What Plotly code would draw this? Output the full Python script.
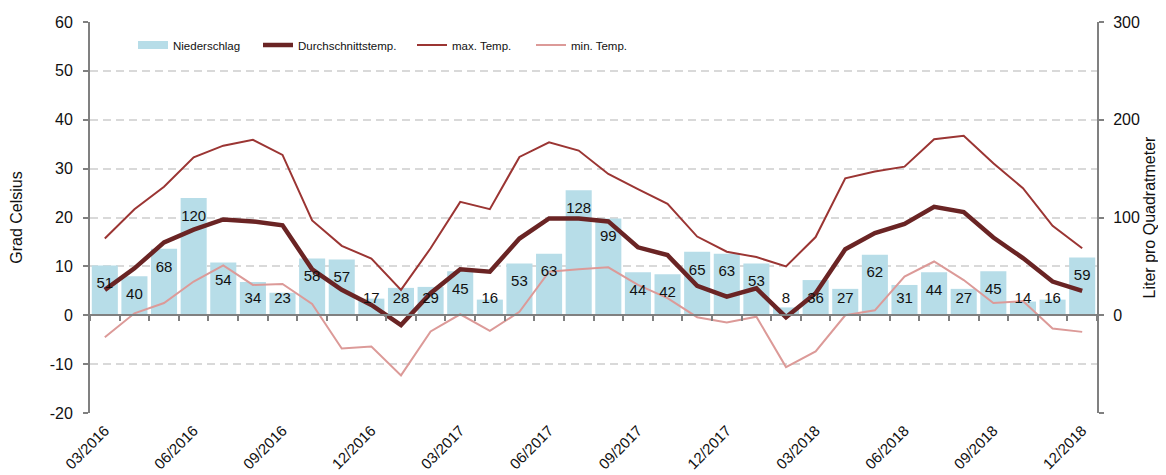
import numpy as np
import plotly.graph_objects as go

months = ["03/2016", "04/2016", "05/2016", "06/2016", "07/2016", "08/2016", "09/2016", "10/2016",
          "11/2016", "12/2016", "01/2017", "02/2017", "03/2017", "04/2017", "05/2017", "06/2017",
          "07/2017", "08/2017", "09/2017", "10/2017", "11/2017", "12/2017", "01/2018", "02/2018",
          "03/2018", "04/2018", "05/2018", "06/2018", "07/2018", "08/2018", "09/2018", "10/2018",
          "11/2018", "12/2018"]

niederschlag = [51, 40, 68, 120, 54, 34, 23, 58, 57, 17, 28, 29, 45, 16, 53, 63, 128, 99, 44, 42,
                65, 63, 53, 8, 36, 27, 62, 31, 44, 27, 45, 14, 16, 59]

avg_temp = [5.2, 9.6, 14.9, 17.5, 19.6, 19.2, 18.4, 9.4, 5.2, 2.1,
            -2.0, 4.5, 9.4, 8.9, 15.7, 19.8, 19.8, 19.2, 13.9, 12.3, 6.0, 3.8,
            5.5, -0.4, 4.5, 13.5, 16.8, 18.7, 22.2, 21.1, 15.9, 11.7, 6.9, 5.0]

max_temp = [15.7, 21.7, 26.3, 32.3, 34.7, 35.9, 32.8, 19.4, 14.2, 11.6,
            5.2, 13.7, 23.2, 21.7, 32.4, 35.4, 33.7, 28.9, 25.8, 22.8, 16.1, 13.0,
            11.9, 10.0, 16.0, 28.0, 29.4, 30.4, 36.0, 36.7, 31.1, 26.0, 18.3, 13.7]

min_temp = [-4.5, 0.4, 2.5, 6.9, 10.2, 6.2, 6.4, 2.3, -6.8, -6.4,
            -12.3, -3.3, 0.2, -3.2, 0.7, 8.9, 9.4, 9.8, 6.2, 3.5, -0.4, -1.5,
            -0.3, -10.6, -7.4, 0.0, 1.0, 7.9, 11.0, 7.2, 2.5, 2.9, -2.7, -3.4]

tick_labels = months[::3]
temp_ticks = [-20, -10, 0, 10, 20, 30, 40, 50, 60]
precip_ticks = [-100, 0, 100, 200, 300]

BAR = "#b7dde8"
AVG = "#6a2424"
MAX = "#9b3533"
MIN = "#dc9a98"
AXIS = "#808080"
TXT = "#111111"
FONT = "Liberation Sans, Arial, sans-serif"

fig = go.Figure()

fig.add_trace(go.Bar(x=months, y=niederschlag, marker_color=BAR, marker_line_width=0,
                     name="Niederschlag", showlegend=False, yaxis="y", xaxis="x"))

# data labels: inside end of bar, but never lower than a minimum above zero
label_y = np.maximum(np.array(niederschlag) - 19.5, 16.4)
fig.add_trace(go.Scatter(x=months, y=label_y, mode="text", text=[str(v) for v in niederschlag],
                         textfont=dict(size=15, color=TXT, family=FONT), showlegend=False,
                         hoverinfo="skip", yaxis="y", xaxis="x2"))

# legend proxy for bars (wide swatch like the original)
fig.add_trace(go.Scatter(x=[None], y=[None], mode="lines", line=dict(color=BAR, width=8),
                         name="Niederschlag", legend="legend", yaxis="y2"))

fig.add_trace(go.Scatter(x=months, y=min_temp, mode="lines", line=dict(color=MIN, width=2),
                         name="min. Temp.", legend="legend4", yaxis="y2"))
fig.add_trace(go.Scatter(x=months, y=max_temp, mode="lines", line=dict(color=MAX, width=2),
                         name="max. Temp.", legend="legend3", yaxis="y2"))
fig.add_trace(go.Scatter(x=months, y=avg_temp, mode="lines", line=dict(color=AVG, width=4.5),
                         name="Durchschnittstemp.", legend="legend2", yaxis="y2"))

# the page body has an 8px margin: size the figure so the plot area lands where it should
OFF = 8
W, H = 1166 - OFF, 475 - OFF
L, R, T, B = 90 - OFF, 69, 22 - OFF, 62
pw = W - L - R


def lx(px):
    return (px - OFF - 5 - L) / pw


leg_y = (H - B - (45 - OFF)) / (H - T - B)
legfont = dict(size=11.5, color=TXT, family=FONT)
common = dict(y=leg_y, yanchor="middle", xanchor="left", bgcolor="rgba(0,0,0,0)",
              font=legfont, orientation="h")

fig.update_layout(
    width=W, height=H,
    margin=dict(l=L, r=R, t=T, b=B, autoexpand=False),
    paper_bgcolor="white", plot_bgcolor="white",
    font=dict(family=FONT, color=TXT),
    bargap=0.12,
    legend=dict(x=lx(138), **common),
    legend2=dict(x=lx(263), **common),
    legend3=dict(x=lx(417), **common),
    legend4=dict(x=lx(536), **common),
    xaxis=dict(type="category", categoryarray=months, range=[-0.5, len(months) - 0.5],
               anchor="free", position=0.25, showline=True, linecolor=AXIS, linewidth=2,
               ticks="outside", tickson="boundaries", ticklen=5, tickcolor=AXIS, tickwidth=2,
               showticklabels=False, showgrid=False, zeroline=False, automargin=False),
    xaxis2=dict(overlaying="x", type="category", categoryarray=months,
                range=[-0.5, len(months) - 0.5],
                tickvals=tick_labels, ticktext=tick_labels,
                tickangle=-45, ticks="", showline=False, showgrid=False, zeroline=False,
                anchor="y", side="bottom", tickfont=dict(size=15, color=TXT, family=FONT),
                ticklabelstandoff=5, automargin=False),
    yaxis=dict(side="right", range=[-100, 300], tickvals=precip_ticks,
               ticktext=["" if v < 0 else str(v) for v in precip_ticks],
               showline=True, linecolor=AXIS, linewidth=2, ticks="outside", ticklen=5,
               tickcolor=AXIS, tickwidth=2, showgrid=False, zeroline=False, automargin=False,
               tickfont=dict(size=16, color=TXT, family=FONT), ticklabelstandoff=6,
               title=dict(text="Liter pro Quadratmeter", font=dict(size=16, color=TXT, family=FONT),
                          standoff=5)),
    yaxis2=dict(side="left", overlaying="y", range=[-20, 60], tickvals=temp_ticks,
                ticktext=[str(v) for v in temp_ticks],
                showline=True, linecolor=AXIS, linewidth=2, ticks="outside", ticklen=5,
                tickcolor=AXIS, tickwidth=2, showgrid=True, gridcolor="#d9d9d9", gridwidth=2,
                griddash="8px,5px", zeroline=False, automargin=False,
                tickfont=dict(size=16, color=TXT, family=FONT), ticklabelstandoff=7,
                title=dict(text="Grad Celsius", font=dict(size=16, color=TXT, family=FONT),
                           standoff=26)),
)

fig.write_html("out.html")
